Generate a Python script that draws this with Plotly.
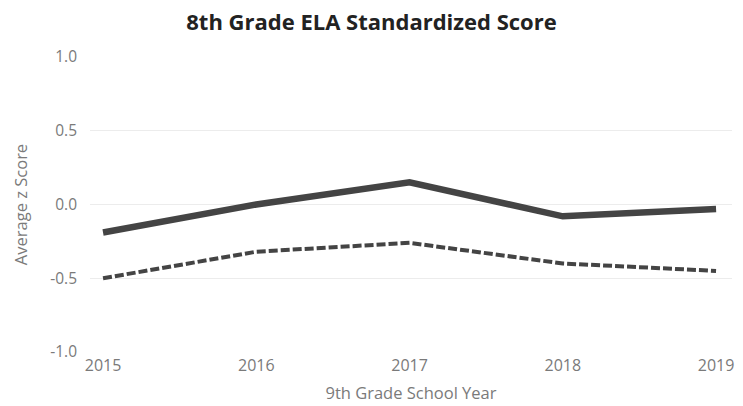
import plotly.graph_objects as go

years = [2015, 2016, 2017, 2018, 2019]
solid_scores = [-0.19, 0.0, 0.15, -0.08, -0.03]
dashed_scores = [-0.50, -0.32, -0.26, -0.40, -0.45]
y_ticks = [-1.0, -0.5, 0.0, 0.5, 1.0]

fig = go.Figure()
fig.add_trace(go.Scatter(x=years, y=dashed_scores, mode="lines",
                         line=dict(color="#444444", width=4, dash="9px,3px"),
                         showlegend=False, hoverinfo="skip"))
fig.add_trace(go.Scatter(x=years, y=solid_scores, mode="lines",
                         line=dict(color="#444444", width=6.5),
                         showlegend=False, hoverinfo="skip"))

fig.update_layout(
    width=743, height=406,
    margin=dict(l=90, r=11, t=57, b=54),
    paper_bgcolor="white", plot_bgcolor="white",
    font=dict(family="Open Sans", color="#7a7a7a"),
    title=dict(text="<b>8th Grade ELA Standardized Score</b>", x=0.5, xanchor="center",
               y=0.945, yanchor="middle",
               font=dict(family="Open Sans", size=22, color="#222222")),
    xaxis=dict(range=[2014.915, 2019.104], tickvals=years, ticktext=[str(y) for y in years],
               showgrid=False, zeroline=False, showline=False, automargin=False,
               tickfont=dict(size=16, color="#7a7a7a"), ticklabelstandoff=2,
               title=dict(text="9th Grade School Year", font=dict(size=16.5, color="#7a7a7a"), standoff=12)),
    yaxis=dict(range=[-1.0, 1.0], tickvals=y_ticks, ticktext=["-1.0", "-0.5", "0.0", "0.5", "1.0"],
               showgrid=True, gridcolor="#ececec", gridwidth=1, zeroline=False, showline=False,
               automargin=False,
               tickfont=dict(size=15.5, color="#7a7a7a"), ticks="", ticklen=0, ticklabelstandoff=12,
               title=dict(text="Average z Score", font=dict(size=16.5, color="#7a7a7a"), standoff=18)),
)

fig.write_html("out.html", config={"displayModeBar": False},
               post_script="document.body.style.margin='0px';")
